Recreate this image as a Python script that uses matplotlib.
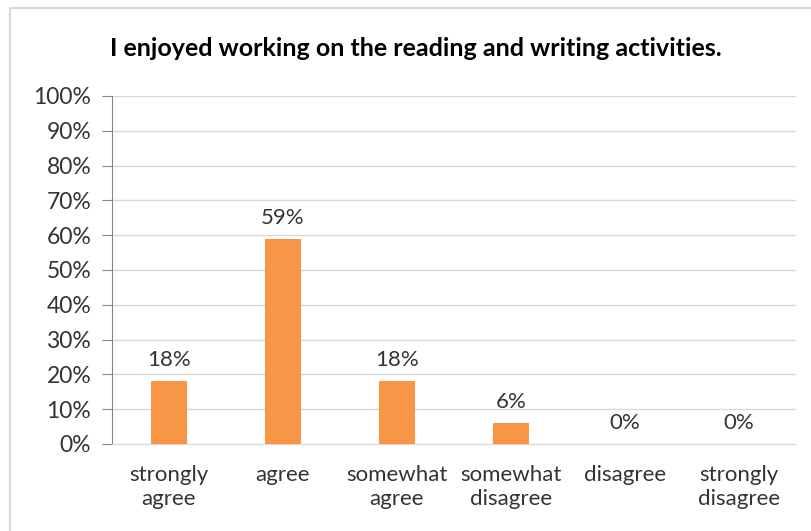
import matplotlib.pyplot as plt
from matplotlib.patches import Rectangle
from matplotlib.ticker import PercentFormatter

categories = ['strongly\nagree', 'agree', 'somewhat\nagree', 'somewhat\ndisagree',
              'disagree', 'strongly\ndisagree']
values = [18, 59, 18, 6, 0, 0]
title = 'I enjoyed working on the reading and writing activities.'

plt.rcParams['font.family'] = ['Lato', 'DejaVu Sans']

fig = plt.figure(figsize=(8.11, 5.31), dpi=100)
fig.patches.append(Rectangle((10 / 811, -0.1), 1.2, 1 - 8 / 531 + 0.1,
                             transform=fig.transFigure, fill=False,
                             edgecolor='#d9d9d9', linewidth=1.5))

ax = fig.add_axes([112 / 811, 1 - 444 / 531, 684 / 811, 348 / 531])
x = range(len(categories))
bars = ax.bar(x, values, width=0.32, color='#f79646', zorder=3)

for xi, v in zip(x, values):
    ax.text(xi, v + 3.2, f'{v}%', ha='center', va='bottom', fontsize=16, color='#333333')

ax.set_xlim(-0.5, len(categories) - 0.5)
ax.set_ylim(0, 100)
ax.set_yticks(range(0, 101, 10))
ax.yaxis.set_major_formatter(PercentFormatter(decimals=0))
ax.set_xticks(list(x))
ax.set_xticklabels(categories, fontsize=16, color='#333333', linespacing=1.25)
ax.tick_params(axis='x', length=0, pad=15)
ax.tick_params(axis='y', labelsize=16.5, labelcolor='#333333', color='#868686',
               length=7, pad=8)
ax.grid(axis='y', color='#d9d9d9', linewidth=1, zorder=0)
for s in ['top', 'right']:
    ax.spines[s].set_visible(False)
ax.spines['left'].set_color('#868686')
ax.spines['bottom'].set_color('#d9d9d9')

fig.text(416 / 811, 1 - 48 / 531, title, ha='center', va='center',
         fontsize=18, fontweight='bold', color='black')

fig.savefig('out.png', dpi=100)
